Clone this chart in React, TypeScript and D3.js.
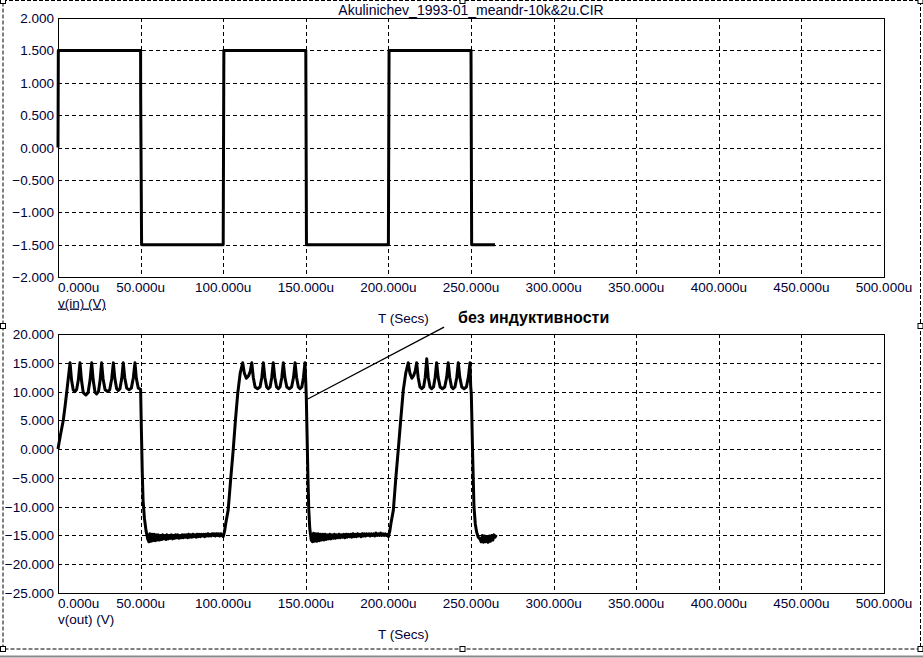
import React, { useRef, useEffect } from "react";
import * as d3 from "d3";

const width = 923;
const height = 658;

const title = "Akulinichev_1993-01_meandr-10k&2u.CIR";
const timeTicks = [0, 50, 100, 150, 200, 250, 300, 350, 400, 450, 500];
const inTicks = [-2, -1.5, -1, -0.5, 0, 0.5, 1, 1.5, 2];
const outTicks = [-25, -20, -15, -10, -5, 0, 5, 10, 15, 20];
const inLabel = "v(in) (V)";
const outLabel = "v(out) (V)";
const timeLabel = "T (Secs)";
const note = "без индуктивности";

// time in microseconds, volts
const vIn: [number, number][] = [
  [0, 0], [0.2, 1.5], [50, 1.5], [50.05, 0.8], [50.6, -1.5],
  [100, -1.5], [100.4, 1.5], [150, 1.5], [150.4, -1.5],
  [200, -1.5], [200.4, 1.5], [250, 1.5], [250.4, -1.5], [264.5, -1.5],
];

const outHigh1: [number, number][] = [
  [0, 0], [1.5, 2.5], [3.2, 5], [4.3, 7.5], [5.2, 9.7], [6.3, 12.5], [7.3, 15],
  [8.2, 12.0], [9.2, 10.3], [10.3, 10.0], [11.3, 10.4], [12.3, 12.0], [13.3, 15],
  [14.2, 12.0], [15.3, 9.8], [16.9, 9.4], [18.2, 9.8], [19.4, 12.0], [20.4, 15],
  [21.3, 12.0], [22.4, 9.9], [23.4, 9.6], [24.5, 10.0], [25.5, 12.0], [26.4, 15],
  [27.3, 12.2], [28.5, 10.3], [30.0, 10.0], [31.3, 10.3], [32.5, 12.2], [33.5, 15],
  [34.4, 12.3], [35.5, 10.5], [36.5, 10.2], [37.5, 10.5], [38.6, 12.3], [39.5, 15],
  [40.4, 12.4], [41.6, 10.6], [43.0, 10.3], [44.4, 10.6], [45.6, 12.4], [46.6, 15],
  [47.4, 12.3], [48.6, 10.6], [50.0, 10.4],
  [50.5, 3], [51.0, -4], [51.5, -8.9], [52.3, -12], [53.3, -14.2], [54.3, -15.6],
];

const outLow1: [number, number][] = [
  [55.0, -16.1], [55.6, -14.7], [56.3, -16.0], [56.9, -14.8], [57.6, -15.9], [58.2, -14.8],
  [58.9, -15.9], [59.5, -14.9], [60.2, -15.8], [60.8, -14.9], [61.5, -15.8], [62.1, -15.0],
  [62.8, -15.7], [63.4, -14.9], [64.1, -15.6], [64.7, -15.0], [65.4, -15.7], [66.0, -14.9],
  [66.7, -15.6], [67.3, -15.0], [68.0, -15.5], [68.6, -14.9], [69.3, -15.6], [69.9, -15.0],
  [70.6, -15.5], [71.2, -14.9], [71.9, -15.4], [72.5, -14.9], [73.2, -15.5], [73.8, -15.0],
  [74.5, -15.4], [75.1, -14.9], [75.8, -15.4], [76.4, -14.9], [77.1, -15.3], [77.7, -14.9],
  [78.4, -15.4], [79.0, -14.8], [79.7, -15.3], [80.3, -14.9], [81.0, -15.3], [81.6, -14.8],
  [82.3, -15.2], [82.9, -14.9], [83.6, -15.3], [84.2, -14.8], [84.9, -15.2], [85.5, -14.8],
  [86.2, -15.2], [86.8, -14.8], [87.5, -15.1], [88.1, -14.8], [88.8, -15.2], [89.4, -14.8],
  [90.1, -15.1], [90.7, -14.7], [91.4, -15.1], [92.0, -14.8], [92.7, -15.1], [93.3, -14.7],
  [94.0, -15.0], [94.6, -14.7], [95.3, -15.1], [95.9, -14.7], [96.6, -15.0], [97.2, -14.7],
  [97.9, -15.1], [98.5, -14.7], [99.2, -15.0], [100.0, -15.2],
];

const outHigh2: [number, number][] = [
  [100.8, -14.3], [101.6, -12.8], [103.0, -10.6], [104.6, -5], [106.1, 0],
  [107.4, 5], [108.8, 9.7], [110.3, 13.2], [111.8, 15],
  [112.8, 13.2], [114.0, 12.3], [115.3, 12.7], [116.4, 13.5], [117.3, 15],
  [118.2, 12.5], [119.3, 10.8], [120.8, 10.5], [122.3, 10.8], [123.4, 12.5], [124.3, 15],
  [125.2, 12.5], [126.3, 10.8], [127.3, 10.5], [128.4, 10.8], [129.4, 12.5], [130.3, 15],
  [131.2, 12.5], [132.3, 10.8], [133.4, 10.5], [134.4, 10.8], [135.5, 12.5], [136.4, 15],
  [137.3, 12.5], [138.5, 10.8], [140.0, 10.5], [141.4, 10.8], [142.6, 12.5], [143.5, 15],
  [144.4, 12.5], [145.5, 10.8], [146.5, 10.5], [147.6, 10.8], [148.6, 12.5], [149.5, 15],
  [150.0, 11.5], [150.3, 9.1], [150.8, 2], [151.3, -5], [151.8, -10.5], [152.4, -13.8], [153.3, -15.8],
];

const outLow2: [number, number][] = [
  [154.0, -16.1], [154.7, -14.6], [155.4, -16.0], [156.1, -14.7], [156.8, -16.0], [157.5, -14.7],
  [158.2, -15.9], [158.9, -14.8], [159.6, -15.8], [160.3, -14.8], [161.0, -15.8], [161.7, -14.8],
  [162.4, -15.7], [163.1, -14.9], [163.8, -15.6], [164.5, -14.8], [165.2, -15.6], [165.9, -14.9],
  [166.6, -15.5], [167.3, -14.8], [168.0, -15.5], [168.7, -14.9], [169.4, -15.4], [170.1, -14.8],
  [170.8, -15.4], [171.5, -14.9], [172.2, -15.3], [172.9, -14.8], [173.6, -15.4], [174.3, -14.8],
  [175.0, -15.3], [175.7, -14.8], [176.4, -15.2], [177.1, -14.8], [177.8, -15.3], [178.5, -14.7],
  [179.2, -15.2], [179.9, -14.8], [180.6, -15.2], [181.3, -14.7], [182.0, -15.1], [182.7, -14.8],
  [183.4, -15.2], [184.1, -14.7], [184.8, -15.1], [185.5, -14.7], [186.2, -15.1], [186.9, -14.7],
  [187.6, -15.0], [188.3, -14.7], [189.0, -15.1], [189.7, -14.7], [190.4, -15.0], [191.1, -14.7],
  [191.8, -15.1], [192.5, -14.6], [193.2, -15.0], [193.9, -14.7], [194.6, -15.0], [195.3, -14.6],
  [196.0, -15.0], [196.7, -14.7], [197.4, -15.0], [198.1, -14.7], [198.8, -15.0], [199.5, -14.8],
  [200.0, -15.2],
];

const outHigh3: [number, number][] = [
  [200.8, -14.3], [201.6, -12.8], [203.0, -10.6], [204.5, -5], [206.0, 0],
  [207.5, 5.2], [209.0, 10.2], [210.5, 13.2], [212.0, 15],
  [213.0, 13.2], [214.2, 12.3], [215.3, 12.8], [216.3, 13.6], [217.1, 15],
  [218.0, 12.5], [219.1, 10.8], [220.2, 10.5], [221.3, 10.8], [222.3, 12.5], [223.2, 15.7],
  [224.1, 12.5], [225.2, 10.8], [226.2, 10.5], [227.3, 10.8], [228.3, 12.5], [229.2, 15],
  [230.1, 12.5], [231.3, 10.8], [232.7, 10.5], [234.1, 10.8], [235.3, 12.5], [236.2, 15],
  [237.1, 12.5], [238.2, 10.8], [239.2, 10.5], [240.3, 10.8], [241.4, 12.5], [242.3, 15],
  [243.2, 12.5], [244.4, 10.8], [245.8, 10.5], [247.2, 10.8], [248.4, 12.5], [249.4, 15],
  [249.8, 11], [250.2, 9.5], [251.0, -1], [251.8, -10], [252.6, -13], [253.4, -14.4], [254.4, -15.3],
];

const outLow3: [number, number][] = [
  [255.4, -15.6], [256.2, -16.1], [256.9, -15.0], [257.6, -16.2], [258.3, -15.1], [259.0, -16.1],
  [259.7, -15.2], [260.4, -16.2], [261.1, -15.1], [261.8, -16.0], [262.5, -15.0], [263.2, -15.8],
  [263.9, -14.9], [264.6, -15.3], [265.3, -14.9],
];

const vOut = [...outHigh1, ...outLow1, ...outHigh2, ...outLow2, ...outHigh3, ...outLow3];

// annotation leader, in (time, volts) of the lower plot
const noteFrom: [number, number] = [151.2, 8.7];
const noteTo: [number, number] = [233.7, 21.2];

const left = 58;
const right = 884;
const font = "'Liberation Sans', Arial, sans-serif";
const textColor = "#000033";
const fontSize = 13.5;

export default function App() {
  const ref = useRef<SVGSVGElement | null>(null);

  useEffect(() => {
    const svg = d3.select(ref.current);
    svg.selectAll("*").remove();

    svg.append("rect").attr("width", width).attr("height", height).attr("fill", "#fff");

    const x = d3.scaleLinear().domain([0, 500]).range([left, right]);
    const fmt = d3.format(".3f");

    const panels = [
      { top: 18, bottom: 277, ticks: inTicks, label: inLabel, underline: true, data: vIn },
      { top: 334, bottom: 593, ticks: outTicks, label: outLabel, underline: false, data: vOut },
    ];

    const scales: d3.ScaleLinear<number, number>[] = [];

    panels.forEach((p) => {
      const y = d3
        .scaleLinear()
        .domain([p.ticks[0], p.ticks[p.ticks.length - 1]])
        .range([p.bottom, p.top]);
      scales.push(y);
      const g = svg.append("g");

      // grid
      g.selectAll("line.hgrid")
        .data(p.ticks.slice(1, -1))
        .enter()
        .append("line")
        .attr("x1", left)
        .attr("x2", right)
        .attr("y1", (d) => Math.round(y(d)) + 0.5)
        .attr("y2", (d) => Math.round(y(d)) + 0.5)
        .attr("stroke", "#000")
        .attr("stroke-dasharray", "4,3");
      g.selectAll("line.vgrid")
        .data(timeTicks.slice(1, -1))
        .enter()
        .append("line")
        .attr("x1", (d) => Math.round(x(d)) + 0.5)
        .attr("x2", (d) => Math.round(x(d)) + 0.5)
        .attr("y1", p.top)
        .attr("y2", p.bottom)
        .attr("stroke", "#000")
        .attr("stroke-dasharray", "4,3");

      g.append("rect")
        .attr("x", left + 0.5)
        .attr("y", p.top + 0.5)
        .attr("width", right - left)
        .attr("height", p.bottom - p.top)
        .attr("fill", "none")
        .attr("stroke", "#000");

      // trace
      const line = d3
        .line<[number, number]>()
        .x((d) => x(d[0]))
        .y((d) => y(d[1]));
      g.append("path")
        .attr("d", line(p.data))
        .attr("fill", "none")
        .attr("stroke", "#000")
        .attr("stroke-width", 3)
        .attr("stroke-linejoin", "round");

      // y tick labels
      g.selectAll("text.ylab")
        .data(p.ticks)
        .enter()
        .append("text")
        .attr("x", 54)
        .attr("y", (d) => y(d) + 5)
        .attr("text-anchor", "end")
        .attr("font-family", font)
        .attr("font-size", fontSize)
        .attr("fill", textColor)
        .text((d) => fmt(d));

      // x tick labels
      g.selectAll("text.xlab")
        .data(timeTicks)
        .enter()
        .append("text")
        .attr("x", (d) => x(d))
        .attr("y", p.bottom + 14.5)
        .attr("text-anchor", (d) => (d === 0 ? "start" : "middle"))
        .attr("font-family", font)
        .attr("font-size", fontSize)
        .attr("fill", textColor)
        .text((d) => fmt(d) + "u");

      g.append("text")
        .attr("x", left)
        .attr("y", p.bottom + 30.5)
        .attr("font-family", font)
        .attr("font-size", fontSize)
        .attr("fill", textColor)
        .attr("text-decoration", p.underline ? "underline" : null)
        .text(p.label);

      g.append("text")
        .attr("x", 378)
        .attr("y", p.bottom + 45.5)
        .attr("font-family", font)
        .attr("font-size", fontSize)
        .attr("fill", textColor)
        .text(timeLabel);
    });

    // title
    svg.append("text")
      .attr("x", 471)
      .attr("y", 15)
      .attr("text-anchor", "middle")
      .attr("font-family", font)
      .attr("font-size", 14)
      .attr("fill", textColor)
      .text(title);

    // annotation
    const yOut = scales[1];
    svg.append("line")
      .attr("x1", x(noteFrom[0]))
      .attr("y1", yOut(noteFrom[1]))
      .attr("x2", x(noteTo[0]))
      .attr("y2", yOut(noteTo[1]))
      .attr("stroke", "#000")
      .attr("stroke-width", 1.3);
    svg.append("text")
      .attr("x", 458)
      .attr("y", 323)
      .attr("font-family", font)
      .attr("font-size", 16)
      .attr("font-weight", "bold")
      .attr("fill", "#000")
      .text(note);

    // selection frame
    svg.append("rect")
      .attr("x", 3)
      .attr("y", 0.5)
      .attr("width", 917.5)
      .attr("height", 648.5)
      .attr("fill", "none")
      .attr("stroke", "#000")
      .attr("stroke-dasharray", "4,2");
    const handles = [
      [3, 1], [462.5, 1], [920.5, 1],
      [3, 326], [920.5, 326],
      [3, 649], [462.5, 649], [920.5, 649],
    ];
    svg.selectAll("rect.handle")
      .data(handles)
      .enter()
      .append("rect")
      .attr("x", (d) => d[0] - 2.5)
      .attr("y", (d) => d[1] - 2.5)
      .attr("width", 5)
      .attr("height", 5)
      .attr("fill", "#fff")
      .attr("stroke", "#000");

    svg.append("line")
      .attr("x1", 0)
      .attr("x2", width)
      .attr("y1", 656.5)
      .attr("y2", 656.5)
      .attr("stroke", "#8a8a8a")
      .attr("stroke-width", 2);
  }, []);

  return (
    <svg
      ref={ref}
      width={width}
      height={height}
      style={{ position: "absolute", left: 0, top: 0 }}
    />
  );
}
